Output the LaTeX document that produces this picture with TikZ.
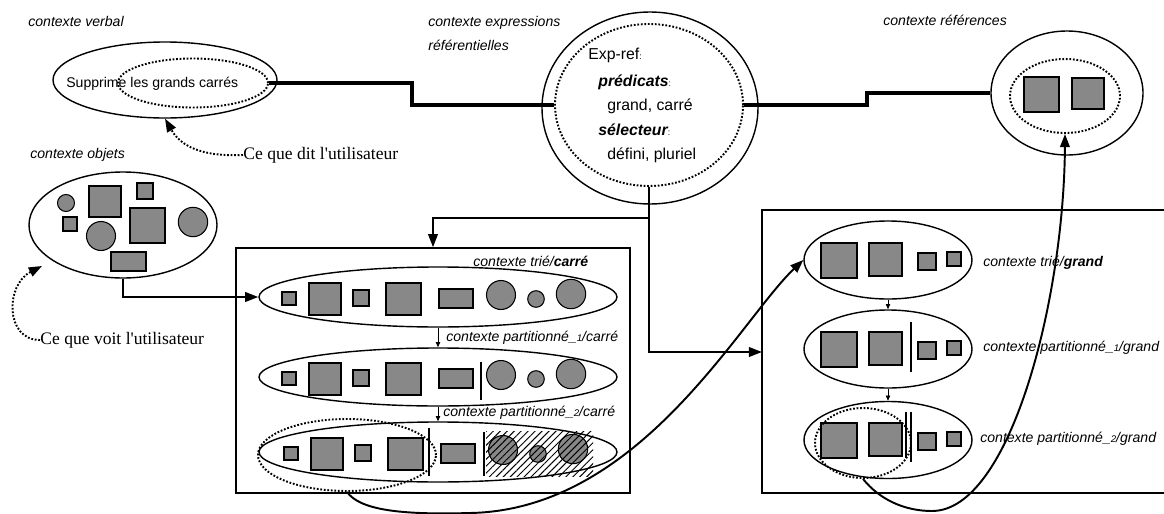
\documentclass[tikz,border=0pt]{standalone}
\usepackage{fontspec}
\setmainfont{Liberation Sans}
\newfontfamily\timesf{Liberation Serif}
\usetikzlibrary{shapes.geometric,arrows.meta,patterns.meta}
\definecolor{shgray}{RGB}{136,136,136}
\def\PX{0.02cm}
\newcommand{\subn}[1]{{\fontsize{5.5}{6}\selectfont #1}}
\newcommand{\smcolon}{{\fontsize{5}{5}\selectfont\upshape\mdseries :}}
\tikzset{
  ell/.style={draw, ellipse, inner sep=0pt, line width=0.8pt},
  mydots/.style={dash pattern=on 1pt off 1pt},
  dotell/.style={draw, ellipse, inner sep=0pt, mydots, line width=1.1pt},
  shp/.style={draw=black, fill=shgray, line width=0.6pt},
  lab/.style={inner sep=0pt, anchor=west, font=\fontsize{8}{9}\selectfont\itshape},
  txt/.style={inner sep=0pt, anchor=west, font=\fontsize{9}{10}\selectfont},
  tms/.style={inner sep=0pt, anchor=west, font=\fontsize{10}{11}\selectfont\timesf},
  thickconn/.style={line width=1.8pt},
  arr/.style={line width=1.1pt, -{Triangle[length=7.5pt,width=5.5pt]}},
  smallarr/.style={line width=0.5pt, -{Triangle[length=3pt,width=2.5pt]}},
  dotarr/.style={mydots, line width=1.1pt, -{Triangle[length=7.5pt,width=5.5pt]}},
  boxline/.style={line width=0.9pt},
  sepline/.style={line width=0.6pt},
  hatch/.style={pattern={Lines[angle=45,distance=2.8pt,line width=0.55pt]}},
}
\newcommand{\carreshapes}{%
  \draw[shp] (-156,-5) rectangle (-142,8);
  \draw[shp] (-129,-14) rectangle (-97,18);
  \draw[shp] (-85,-7) rectangle (-69,9);
  \draw[shp] (-52,-14) rectangle (-17,18);
  \draw[shp] (1,-8) rectangle (35,11);
  \draw[shp] (63,-2) circle[radius=14.5];
  \draw[shp] (98,2) circle[radius=8.3];
  \draw[shp] (133,-3) circle[radius=14.7];
}
\newcommand{\grandshapes}{%
  \draw[shp] (-67,-17) rectangle (-31,18);
  \draw[shp] (-19,-17) rectangle (14,16);
  \draw[shp] (30,-7) rectangle (48,10);
  \draw[shp] (59,-8) rectangle (73,6);
}
\begin{document}
\begin{tikzpicture}[x=0.02cm, y=-0.02cm]
\useasboundingbox (0,0) rectangle (1164,514);

% ---------- labels ----------
\node[lab] (lverb) at (28,21) {contexte verbal};
\node[lab] (lobj) at (30,155) {contexte objets};
\node[lab] (lexp1) at (428,23) {contexte expressions};
\node[lab] (lexp2) at (428,45) {référentielles};
\node[lab] (lref) at (883,20) {contexte références};

% ---------- verbal context ----------
\node[ell, minimum width={224*\PX}, minimum height={76*\PX}] (verb) at (165,80) {};
\node[dotell, minimum width={150*\PX}, minimum height={49*\PX}] (vdot) at (193,83) {};
\node[inner sep=0pt, anchor=west, font=\fontsize{8}{9}\selectfont] (vtxt) at (66,84) {Supprime les grands carrés};

\node[tms] (dit) at (243,155) {Ce que dit l'utilisateur};
\draw[dotarr] (dit.west) .. controls (200,157) and (180,145) .. (verb.south);

% ---------- expressions referentielles ----------
\node[ell, minimum width={216*\PX}, minimum height={192*\PX}] (eout) at (650,108) {};
\node[dotell, minimum width={188*\PX}, minimum height={162*\PX}] (edot) at (649,105) {};
\node[txt] (e1) at (588,55) {Exp-ref\smcolon};
\node[txt] (e2) at (598,82) {\bfseries\itshape prédicats\smcolon};
\node[txt] (e3) at (607,106) {grand, carré};
\node[txt] (e4) at (598,130) {\bfseries\itshape sélecteur\smcolon};
\node[txt] (e5) at (607,155) {défini, pluriel};

% ---------- references ----------
\node[ell, minimum width={152*\PX}, minimum height={124*\PX}] (ref) at (1067,93) {};
\node[dotell, minimum width={110*\PX}, minimum height={74*\PX}] (refdot) at (1065,96) {};
\draw[shp] (1024,77) rectangle (1059,112);
\draw[shp] (1072,78) rectangle (1104,109);

% thick connectors
\draw[thickconn] (vdot.east) -| (412,105) -- (edot.west);
\draw[thickconn] (edot.east) -| (867,93) -- (ref.west);

% ---------- objects ----------
\node[ell, minimum width={188*\PX}, minimum height={106*\PX}] (obj) at (123,225) {};
\draw[shp] (66,203) circle[radius=8.5];
\draw[shp] (89,186) rectangle (121,217);
\draw[shp] (137,183) rectangle (153,199);
\draw[shp] (63,217) rectangle (77,231);
\draw[shp] (101,236) circle[radius=14.5];
\draw[shp] (130,208) rectangle (165,243);
\draw[shp] (193,222) circle[radius=14.7];
\draw[shp] (111,252) rectangle (146,271);

\node[tms] (voit) at (40,340) {Ce que voit l'utilisateur};
\coordinate (voitEnd) at (42,266);
\draw[dotarr] (voit.west) .. controls (5,340) and (5,285) .. (voitEnd);

% ---------- left box (carre) ----------
\node[draw, boxline, inner sep=0pt, minimum width={394*\PX}, minimum height={245*\PX}] (lbox) at (433,370.5) {};

\node[ell, minimum width={358*\PX}, minimum height={60*\PX}] (tc) at (438,297) {};
\begin{scope}[shift={(438,297)}] \carreshapes \end{scope}
\node[lab] (ltc) at (473,261) {contexte trié/{\bfseries carré}};

\node[ell, minimum width={358*\PX}, minimum height={58*\PX}] (p1c) at (438,377) {};
\begin{scope}[shift={(438,377)}] \carreshapes \end{scope}
\draw[sepline] (481,362) -- (481,400);
\node[lab] (lp1c) at (446,338) {contexte partitionné\_\subn{1}/carré};

\node[ell, minimum width={358*\PX}, minimum height={60*\PX}] (p2c) at (438,452) {};
\begin{scope}[shift={(440,452)}] \carreshapes \end{scope}
\fill[hatch] (486,431) rectangle (593,476);
\draw[sepline] (429,428) -- (429,476);
\draw[sepline] (484,432) -- (484,476);
\node[dotell, minimum width={178*\PX}, minimum height={72*\PX}] (cdot) at (347,455) {};
\node[lab] (lp2c) at (443,413) {contexte partitionné\_\subn{2}/carré};

\draw[smallarr] (tc.south) -- (p1c.north);
\draw[smallarr] (p1c.south) -- (p2c.north);

\draw[arr] (obj.south) |- (tc.west);

% ---------- right box (grand) ----------
\draw[boxline] (1164,210) -- (762,210) -- (762,493) -- (1164,493);
\coordinate (rin) at (762,352);

\node[ell, minimum width={168*\PX}, minimum height={78*\PX}] (tg) at (888,260) {};
\begin{scope}[shift={(888,260)}] \grandshapes \end{scope}
\node[lab] (ltg) at (983,263) {contexte trié/{\bfseries grand}};

\node[ell, minimum width={168*\PX}, minimum height={78*\PX}] (p1g) at (888,349) {};
\begin{scope}[shift={(888,349)}] \grandshapes \end{scope}
\draw[sepline] (911,322) -- (911,372);
\node[lab] (lp1g) at (983,348) {contexte partitionné\_\subn{1}/grand};

\node[ell, minimum width={168*\PX}, minimum height={77*\PX}] (p2g) at (888,440) {};
\begin{scope}[shift={(888,440)}] \grandshapes \end{scope}
\draw[sepline] (906,412) -- (906,458);
\draw[sepline] (911,412) -- (911,462);
\node[dotell, minimum width={96*\PX}, minimum height={70*\PX}] (gdot) at (863,443) {};
\node[lab] (lp2g) at (980,439) {contexte partitionné\_\subn{2}/grand};

\draw[smallarr] (tg.south) -- (p1g.north);
\draw[smallarr] (p1g.south) -- (p2g.north);

% ---------- connectors from exp-ref ----------
\coordinate (br) at (649,218);
\draw[arr] (edot.south) |- (rin);
\draw[arr] (br) -| (lbox.north);

% ---------- long curves ----------
\draw[arr] (cdot.south) .. controls (360,510) and (400,515) .. (470,513)
           .. controls (640,510) and (740,320) .. (tg.west);
\draw[arr] (gdot.south) .. controls (880,500) and (905,511) .. (932,511)
           .. controls (1010,511) and (1064,300) .. (refdot.south);
\end{tikzpicture}
\end{document}
